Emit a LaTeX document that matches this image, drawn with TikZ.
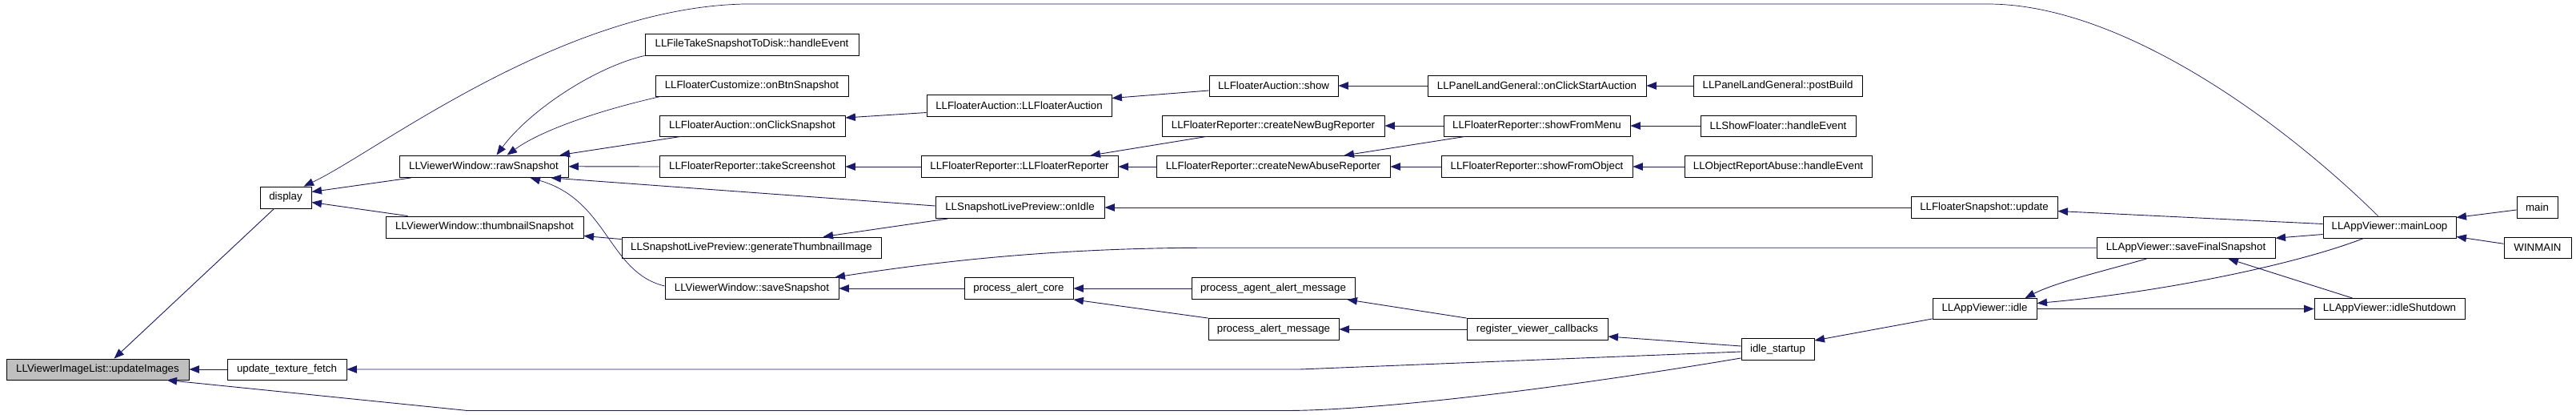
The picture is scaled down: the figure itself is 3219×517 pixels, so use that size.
\documentclass[tikz,border=0pt]{standalone}
\usepackage{fontspec}
\setmainfont{Liberation Sans}
\usetikzlibrary{arrows.meta}
\definecolor{edgecol}{HTML}{191970}
\definecolor{rootfill}{HTML}{BFBFBF}
\tikzset{
  fnbox/.style={draw=black, line width=0.9pt, fill=white, inner sep=0pt, font=\fontsize{13.3}{16}\selectfont, anchor=center},
  rootbox/.style={fill=rootfill},
  edge/.style={draw=edgecol, line width=0.9pt, -{Triangle[length=12.5pt,width=9.5pt]}},
}
\newcommand\bx[7][]{\node[fnbox,#1,minimum width={(#5)-(#3)},minimum height={(#6)-(#4)}] (#2) at ({((#3)+(#5))/2},{((#4)+(#6))/2}) {#7};}
\begin{document}
\begin{tikzpicture}[x=1pt,y=-1pt]
\useasboundingbox (0,0) rectangle (3219,517);
\fill[white] (0,0) rectangle (3219,517);
\bx[rootbox]{upd}{8}{448}{236}{474}{LLViewerImageList::updateImages}
\bx{utf}{284}{448}{433}{474}{update\_texture\_fetch}
\bx{disp}{325}{233}{389}{260}{display}
\bx{raw}{499}{194}{710}{221.5}{LLViewerWindow::rawSnapshot}
\bx{thumb}{482}{270}{729}{297}{LLViewerWindow::thumbnailSnapshot}
\bx{ftsd}{806}{42}{1073}{69}{LLFileTakeSnapshotToDisk::handleEvent}
\bx{fcus}{819}{94}{1060}{120}{LLFloaterCustomize::onBtnSnapshot}
\bx{faocs}{824}{144}{1056}{170}{LLFloaterAuction::onClickSnapshot}
\bx{frts}{824}{194.5}{1056}{221.5}{LLFloaterReporter::takeScreenshot}
\bx{gti}{777}{296}{1101}{322.5}{LLSnapshotLivePreview::generateThumbnailImage}
\bx{saves}{831}{346.5}{1048}{373.5}{LLViewerWindow::saveSnapshot}
\bx{fafa}{1158}{118}{1389}{145}{LLFloaterAuction::LLFloaterAuction}
\bx{frfr}{1151}{194.5}{1397}{221.5}{LLFloaterReporter::LLFloaterReporter}
\bx{onidle}{1169}{245.5}{1380}{272.5}{LLSnapshotLivePreview::onIdle}
\bx{pac}{1205}{346.5}{1341}{373.5}{process\_alert\_core}
\bx{fashow}{1511}{94}{1672}{120}{LLFloaterAuction::show}
\bx{bug}{1452}{144}{1730}{170}{LLFloaterReporter::createNewBugReporter}
\bx{abuse}{1445}{194.5}{1737}{221.5}{LLFloaterReporter::createNewAbuseReporter}
\bx{paam}{1489}{346.5}{1693}{373.5}{process\_agent\_alert\_message}
\bx{pam}{1510}{397.5}{1673}{424.5}{process\_alert\_message}
\bx{ocsa}{1784}{94}{2057}{120}{LLPanelLandGeneral::onClickStartAuction}
\bx{sfm}{1804}{144}{2037}{170}{LLFloaterReporter::showFromMenu}
\bx{sfo}{1801}{194.5}{2040}{221.5}{LLFloaterReporter::showFromObject}
\bx{rvc}{1833}{397.5}{2009}{424.5}{register\_viewer\_callbacks}
\bx{pb}{2116}{94}{2327}{120}{LLPanelLandGeneral::postBuild}
\bx{sfhe}{2125}{144}{2319}{170}{LLShowFloater::handleEvent}
\bx{orhe}{2105}{194.5}{2339}{221.5}{LLObjectReportAbuse::handleEvent}
\bx{fsu}{2388}{245.5}{2571}{272.5}{LLFloaterSnapshot::update}
\bx{idle}{2415}{372.5}{2545}{398.5}{LLAppViewer::idle}
\bx{ist}{2176}{422.5}{2267}{449.5}{idle\_startup}
\bx{ml}{2903}{270}{3069}{297}{LLAppViewer::mainLoop}
\bx{sfs}{2620}{296}{2843}{322.5}{LLAppViewer::saveFinalSnapshot}
\bx{main}{3145}{245.5}{3196}{272.5}{main}
\bx{winmain}{3129}{296}{3213}{322.5}{WINMAIN}
\bx{ish}{2892}{372.5}{3080}{398.5}{LLAppViewer::idleShutdown}
% edges
\draw[edge] (utf.west) -- (upd.east);
\draw[edge] ([xshift=18pt]disp.south west) -- ([xshift=135pt]upd.north west);
\draw[edge] ([yshift=3pt]ist.south west) .. controls (1950,485) and (1720,512.5) .. (1606,512.5) -- (584,512.5) -- ([xshift=201pt]upd.south west);
\draw[edge] ([yshift=-3pt]ist.west) -- (1624,461) -- (utf.east);
\draw[edge] ([xshift=15pt]raw.south west) -- ([yshift=7pt]disp.east);
\draw[edge] ([xshift=28pt]thumb.north west) -- ([yshift=-6pt]disp.east);
\draw[edge,line width=0.7pt] ([xshift=69pt]ml.north west) .. controls (2850,150) and (2650,5) .. (2484,5) -- (930,5) .. controls (700,10) and (470,190) .. ([xshift=55pt]disp.north west);
\draw[edge,line width=0.7pt] (ftsd.south west) .. controls (740,85) and (660,140) .. ([xshift=122pt]raw.north west);
\draw[edge,line width=0.7pt] ([xshift=7pt]fcus.south west) .. controls (760,135) and (680,160) .. ([xshift=135pt]raw.north west);
\draw[edge] ([xshift=27pt]faocs.south west) -- ([xshift=201pt]raw.north west);
\draw[edge] (frts.west) -- (raw.east);
\draw[edge] ([yshift=2pt]onidle.west) -- ([xshift=-22pt]raw.south east);
\draw[edge,line width=0.7pt] ([yshift=3pt]saves.west) .. controls (760,340) and (760,250) .. ([xshift=164pt]raw.south west);
\draw[edge] ([yshift=-3pt]gti.north west) -- ([yshift=3pt]thumb.south east);
\draw[edge] ([xshift=16pt]onidle.south west) -- ([xshift=252pt]gti.north west);
\draw[edge] ([yshift=-9pt]fafa.west) -- ([yshift=10pt]faocs.east);
\draw[edge] (frfr.west) -- (frts.east);
\draw[edge] (fsu.west) -- (onidle.east);
\draw[edge] (sfs.west) -- (1512,309.25) .. controls (1300,309.25) and (1150,330) .. ([xshift=-5pt]saves.north east);
\draw[edge] (pac.west) -- (saves.east);
\draw[edge] ([yshift=-6pt]fashow.west) -- ([yshift=9pt]fafa.east);
\draw[edge] ([xshift=56pt]bug.south west) -- ([xshift=-35pt]frfr.north east);
\draw[edge] (abuse.west) -- (frfr.east);
\draw[edge] (paam.west) -- (pac.east);
\draw[edge] (pam.north west) -- (pac.south east);
\draw[edge] (ocsa.west) -- (fashow.east);
\draw[edge] (sfm.west) -- (bug.east);
\draw[edge] ([xshift=27pt]sfm.south west) -- ([xshift=-58pt]abuse.north east);
\draw[edge] (sfo.west) -- (abuse.east);
\draw[edge] (rvc.north west) -- ([xshift=-10pt]paam.south east);
\draw[edge] (rvc.west) -- (pam.east);
\draw[edge] (pb.west) -- (ocsa.east);
\draw[edge] (sfhe.west) -- (sfm.east);
\draw[edge] (orhe.west) -- (sfo.east);
\draw[edge] ([yshift=4pt]ist.west) -- ([yshift=-9pt]rvc.east);
\draw[edge] ([yshift=4pt]ml.west) -- ([yshift=-4.5pt]fsu.east);
\draw[edge] ([yshift=-9pt]ml.west) -- ([yshift=12pt]sfs.east);
\draw[edge] ([xshift=51pt]ml.south west) .. controls (2870,330) and (2700,365) .. ([yshift=7pt]idle.east);
\draw[edge] ([xshift=63pt]sfs.south west) .. controls (2630,338) and (2570,352) .. ([xshift=-15pt]idle.north east);
\draw[edge] (idle.east) -- (ish.west);
\draw[edge] ([xshift=48pt]ish.north west) -- ([xshift=-59pt]sfs.south east);
\draw[edge] ([yshift=-3pt]main.west) -- ([yshift=12pt]ml.east);
\draw[edge] ([yshift=5pt]winmain.west) -- ([yshift=-12pt]ml.east);
\draw[edge] ([yshift=1pt]idle.south west) -- ([yshift=11pt]ist.east);
\end{tikzpicture}
\end{document}
